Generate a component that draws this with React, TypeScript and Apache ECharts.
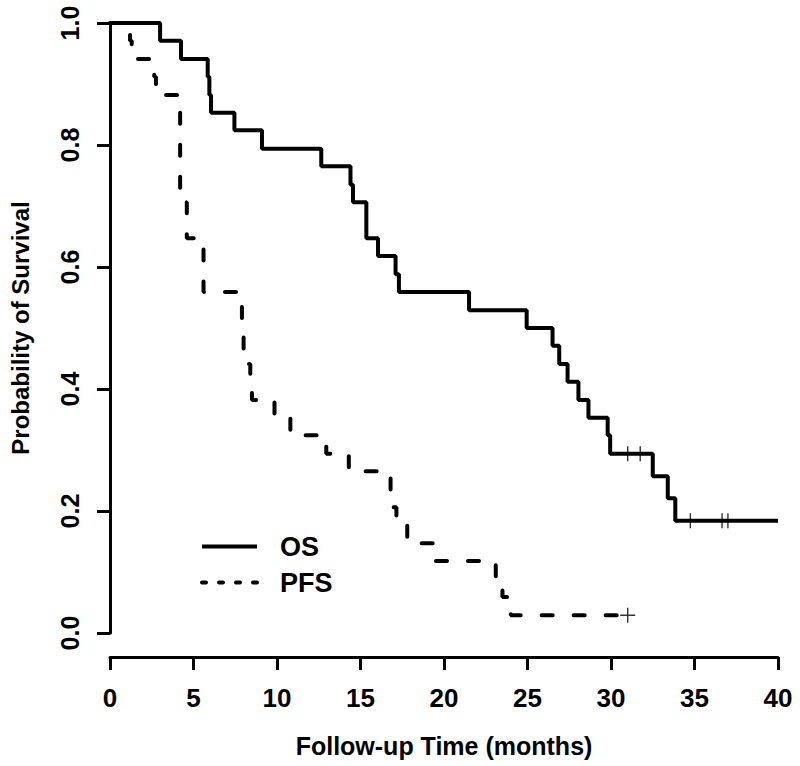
import React, { useEffect, useRef } from "react";
import * as echarts from "echarts";

const X_TICKS_MAX = 40;
const OS_TIMES = [0, 3.0, 4.25, 5.85, 5.95, 6.05, 7.45, 9.1, 12.65, 14.4, 14.55, 15.35, 16.05, 17.1, 17.3, 21.5, 24.95, 26.5, 26.9, 27.4, 28.05, 28.65, 29.8, 29.95, 32.5, 33.4, 33.85, 40];
const OS_SURV = [1.0, 0.971, 0.941, 0.912, 0.882, 0.853, 0.824, 0.794, 0.765, 0.735, 0.706, 0.647, 0.618, 0.588, 0.559, 0.529, 0.5, 0.471, 0.441, 0.412, 0.382, 0.353, 0.324, 0.294, 0.257, 0.221, 0.184, 0.184];
const OS_CENS_TIMES = [31.0, 31.75, 34.75, 36.65, 37.0];
const OS_CENS_SURV = [0.294, 0.294, 0.184, 0.184, 0.184];

const PFS_TIMES = [0, 1.2, 1.3, 2.65, 2.75, 4.2, 4.6, 5.6, 7.9, 8.0, 8.4, 8.5, 9.85, 10.8, 12.95, 14.3, 16.8, 17.15, 17.8, 19.5, 23.1, 23.5, 24.0, 31.0];
const PFS_SURV = [1.0, 0.971, 0.941, 0.912, 0.882, 0.706, 0.647, 0.559, 0.5, 0.441, 0.412, 0.382, 0.353, 0.324, 0.294, 0.265, 0.206, 0.176, 0.147, 0.118, 0.088, 0.059, 0.029, 0.029];
const PFS_CENS_TIMES = [31.0];
const PFS_CENS_SURV = [0.029];

const SERIES_NAMES = ["OS", "PFS"];
const X_TITLE = "Follow-up Time (months)";
const Y_TITLE = "Probability of Survival";

const zip = (a: number[], b: number[]) => a.map((v, i) => [v, b[i]]);
const PLUS = "path://M6.8,0H8.2V6.8H15V8.2H8.2V15H6.8V8.2H0V6.8H6.8Z";
const NARROW = "'Liberation Sans Narrow', 'Liberation Sans', Arial, sans-serif";
const SANS = "'Liberation Sans', Arial, sans-serif";
const CLEAR = "rgba(0,0,0,0)";

export default function App() {
  const ref = useRef<HTMLDivElement>(null);
  useEffect(() => {
    if (!ref.current) return;
    const chart = echarts.init(ref.current, null, { renderer: "svg" });
    chart.setOption({
      animation: false,
      backgroundColor: "#ffffff",
      grid: { left: 108, right: 22, top: 23, bottom: 133 },
      legend: {
        data: [
          { name: SERIES_NAMES[0], lineStyle: { width: 4 } },
          { name: SERIES_NAMES[1], lineStyle: { width: 4, type: [4, 13], cap: "round" } },
        ],
        orient: "vertical",
        left: 195,
        top: 528,
        itemWidth: 55,
        itemHeight: 14,
        itemGap: 9,
        lineStyle: { width: 4 },
        itemStyle: { color: CLEAR, borderColor: CLEAR, borderWidth: 0 },
        textStyle: { fontFamily: SANS, fontWeight: "bold", fontSize: 27, color: "#000", padding: [0, 0, 0, 18] },
      },
      xAxis: {
        type: "value",
        min: 0,
        max: X_TICKS_MAX,
        interval: 5,
        offset: 24,
        splitLine: { show: false },
        axisLine: { show: true, onZero: false, lineStyle: { color: "#000", width: 3 } },
        axisTick: { show: true, length: 13, lineStyle: { color: "#000", width: 3 } },
        axisLabel: { color: "#000", fontFamily: NARROW, fontWeight: "bold", fontSize: 26, margin: 28 },
        name: X_TITLE,
        nameLocation: "middle",
        nameGap: 76,
        nameTextStyle: { color: "#000", fontFamily: SANS, fontWeight: "bold", fontSize: 25 },
      },
      yAxis: {
        type: "value",
        min: 0,
        max: 1,
        interval: 0.2,
        splitLine: { show: false },
        axisLine: { show: true, onZero: false, lineStyle: { color: "#000", width: 3 } },
        axisTick: { show: true, length: 13, lineStyle: { color: "#000", width: 3 } },
        axisLabel: {
          color: "#000",
          fontFamily: NARROW,
          fontWeight: "bold",
          fontSize: 25,
          rotate: 90,
          margin: 28,
          formatter: (v: number) => v.toFixed(1),
        },
        name: Y_TITLE,
        nameLocation: "middle",
        nameRotate: 90,
        nameGap: 78,
        nameTextStyle: { color: "#000", fontFamily: SANS, fontWeight: "bold", fontSize: 24 },
      },
      series: [
        {
          name: "OS",
          type: "line",
          step: "end",
          symbol: "none",
          clip: false,
          data: zip(OS_TIMES, OS_SURV),
          lineStyle: { color: "#000", width: 4, type: "solid" },
          itemStyle: { color: "#000" },
        },
        {
          name: "PFS",
          type: "line",
          step: "end",
          symbol: "none",
          clip: false,
          data: zip(PFS_TIMES, PFS_SURV),
          lineStyle: { color: "#000", width: 4, type: [11, 21], cap: "round" },
          itemStyle: { color: "#000" },
        },
        {
          name: "OS censored",
          type: "scatter",
          symbol: PLUS,
          symbolSize: 15,
          clip: false,
          data: zip(OS_CENS_TIMES, OS_CENS_SURV),
          itemStyle: { color: "#000" },
        },
        {
          name: "PFS censored",
          type: "scatter",
          symbol: PLUS,
          symbolSize: 15,
          clip: false,
          data: zip(PFS_CENS_TIMES, PFS_CENS_SURV),
          itemStyle: { color: "#000" },
        },
      ],
    });
    return () => chart.dispose();
  }, []);
  return <div ref={ref} style={{ position: "fixed", left: 0, top: 0, width: 800, height: 766 }} />;
}
